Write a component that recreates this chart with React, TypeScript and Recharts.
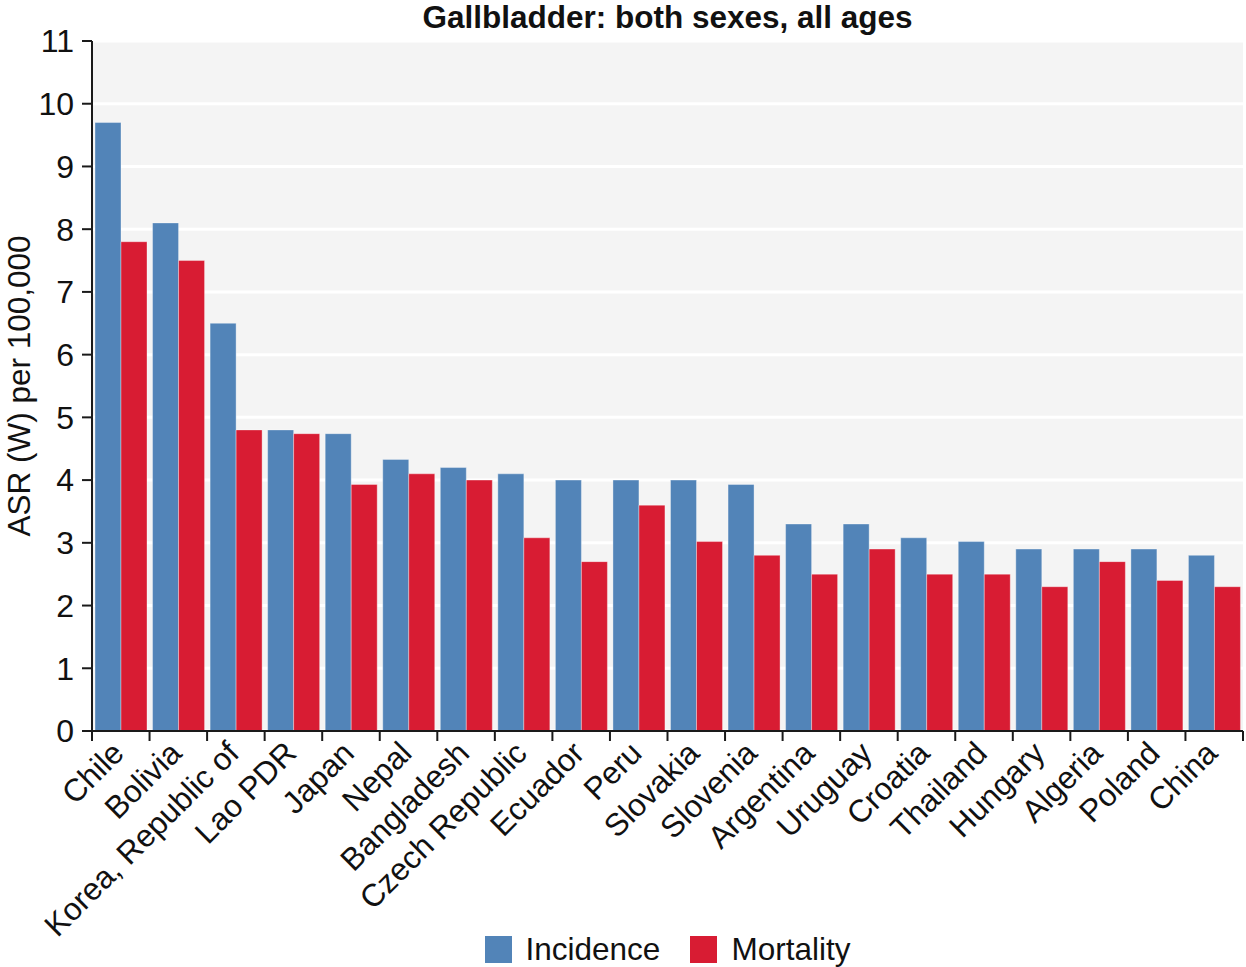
import React from 'react';
import { BarChart, Bar, XAxis, YAxis, CartesianGrid, Legend } from 'recharts';

const CATEGORIES = [
    'Chile', 'Bolivia', 'Korea, Republic of', 'Lao PDR', 'Japan', 'Nepal', 'Bangladesh',
    'Czech Republic', 'Ecuador', 'Peru', 'Slovakia', 'Slovenia', 'Argentina', 'Uruguay',
    'Croatia', 'Thailand', 'Hungary', 'Algeria', 'Poland', 'China',
];
const INCIDENCE = [9.7, 8.1, 6.5, 4.8, 4.74, 4.33, 4.2, 4.1, 4.0, 4.0, 4.0, 3.93, 3.3, 3.3, 3.08, 3.02, 2.9, 2.9, 2.9, 2.8];
const MORTALITY = [7.8, 7.5, 4.8, 4.74, 3.93, 4.1, 4.0, 3.08, 2.7, 3.6, 3.02, 2.8, 2.5, 2.9, 2.5, 2.5, 2.3, 2.7, 2.4, 2.3];
const Y_TICKS = [0, 1, 2, 3, 4, 5, 6, 7, 8, 9, 10, 11];

const data = CATEGORIES.map((name, i) => ({ name, incidence: INCIDENCE[i], mortality: MORTALITY[i] }));

const FONT = '"Liberation Sans", Arial, Helvetica, sans-serif';
const BLUE = '#5284b8';
const RED = '#d81c33';
const AXIS = '#1a1a1a';
const TEXT = '#111';
const FS = 31.5;

const W = 1246;
const H = 967;
const LEFT = 92;
const RIGHT = 3;
const BAND = (W - LEFT - RIGHT) / CATEGORIES.length;

// ticks sit on the category boundaries, labels on the centres
const XTick = (props: any) => {
    const { x, y, payload, index } = props;
    const tx = x + 5;
    const ty = y + 24;
    return (
        <g>
            <line x1={x - BAND / 2} x2={x - BAND / 2} y1={y} y2={y + 10} stroke={AXIS} strokeWidth={2} />
            {index === CATEGORIES.length - 1 && (
                <line x1={x + BAND / 2} x2={x + BAND / 2} y1={y} y2={y + 10} stroke={AXIS} strokeWidth={2} />
            )}
            <text
                x={tx}
                y={ty}
                textAnchor="end"
                transform={`rotate(-45, ${tx}, ${ty})`}
                fontFamily={FONT}
                fontSize={FS}
                fill={TEXT}
            >
                {payload.value}
            </text>
        </g>
    );
};

const LegendContent = ({ payload }: any) => (
    <div style={{ display: 'flex', justifyContent: 'center', alignItems: 'center', height: 36, gap: 30, fontFamily: FONT, fontSize: FS, color: TEXT }}>
        {(payload || []).map((p: any) => (
            <div key={p.value} style={{ display: 'flex', alignItems: 'center' }}>
                <span style={{ width: 27, height: 27, background: p.color, marginRight: 14, display: 'inline-block' }} />
                <span>{p.value}</span>
            </div>
        ))}
    </div>
);

export default function App() {
    return (
        <div style={{ position: 'absolute', left: 0, top: 0, width: W, height: H, background: '#fff' }}>
            <div
                style={{
                    position: 'absolute', top: 0, left: LEFT, width: W - LEFT - RIGHT, textAlign: 'center',
                    fontFamily: FONT, fontWeight: 'bold', fontSize: FS, lineHeight: '34px', color: TEXT,
                }}
            >
                Gallbladder: both sexes, all ages
            </div>
            <BarChart
                width={W}
                height={H}
                data={data}
                margin={{ top: 41, right: RIGHT, left: 0, bottom: 0 }}
                barCategoryGap={3}
                barGap={0}
            >
                <CartesianGrid vertical={false} fill="#f4f4f4" stroke="#ffffff" strokeWidth={3} />
                <XAxis
                    dataKey="name"
                    interval={0}
                    height={200}
                    tickSize={0}
                    tickMargin={0}
                    tick={<XTick />}
                    axisLine={{ stroke: AXIS, strokeWidth: 2 }}
                />
                <YAxis
                    width={LEFT}
                    domain={[0, 11]}
                    ticks={Y_TICKS}
                    interval={0}
                    tickSize={10}
                    tickMargin={8}
                    tickLine={{ stroke: AXIS, strokeWidth: 2 }}
                    axisLine={{ stroke: AXIS, strokeWidth: 2 }}
                    tick={{ fontFamily: FONT, fontSize: 32, fill: TEXT }}
                    label={{
                        value: 'ASR (W) per 100,000',
                        angle: -90,
                        position: 'insideLeft',
                        offset: 19,
                        style: { textAnchor: 'middle', fontFamily: FONT, fontSize: FS, fill: TEXT },
                    }}
                />
                <Legend
                    verticalAlign="bottom"
                    content={<LegendContent />}
                    wrapperStyle={{ left: LEFT, width: W - LEFT - RIGHT }}
                />
                <Bar dataKey="incidence" name="Incidence" fill={BLUE} stroke="rgba(255,255,255,0.35)" strokeWidth={1} isAnimationActive={false} />
                <Bar dataKey="mortality" name="Mortality" fill={RED} stroke="rgba(255,255,255,0.35)" strokeWidth={1} isAnimationActive={false} />
            </BarChart>
        </div>
    );
}
